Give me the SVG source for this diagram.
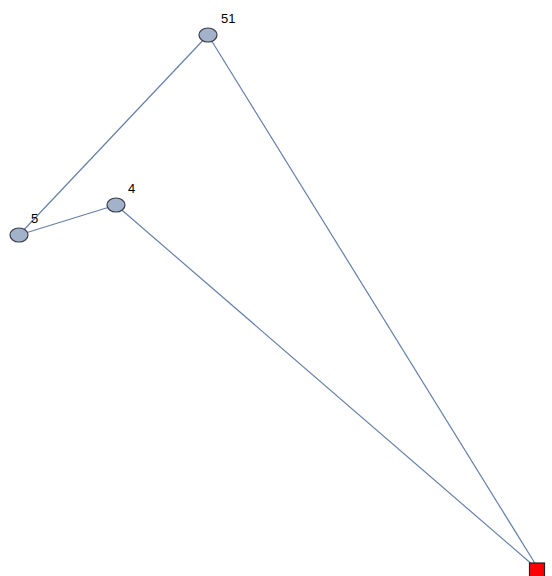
<svg xmlns="http://www.w3.org/2000/svg" width="552" height="576" viewBox="0 0 552 576">
<style>
.e{stroke:#6580a8;stroke-width:1.2;fill:none}
.n{fill:#a2b2cb;stroke:#3c3c48;stroke-width:1.2}
.t{font-family:"Liberation Sans",Arial,sans-serif;font-size:13px;fill:#000}
</style>
<rect width="552" height="576" fill="#fff"/>
<g id="edges">
<line class="e" x1="19" y1="235" x2="208" y2="35"/>
<line class="e" x1="19" y1="235" x2="116" y2="205"/>
<line class="e" x1="116" y1="205" x2="534" y2="566"/>
<line class="e" x1="208" y1="35" x2="536" y2="565"/>
</g>
<g id="n51"><ellipse class="n" cx="208" cy="35" rx="9" ry="7"/><text class="t" x="221" y="23">51</text></g>
<g id="n4"><ellipse class="n" cx="116" cy="205" rx="9" ry="7"/><text class="t" x="128" y="193">4</text></g>
<g id="n5"><ellipse class="n" cx="19" cy="235" rx="9" ry="7"/><text class="t" x="31" y="223">5</text></g>
<g id="nsq"><rect x="529.5" y="563" width="15" height="14" fill="#ff0000" stroke="#222" stroke-width="1.2"/></g>
</svg>
